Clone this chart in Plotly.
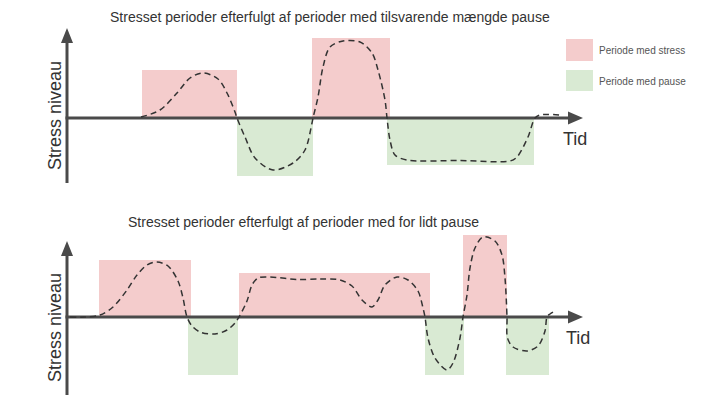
import plotly.graph_objects as go

# ---------------- data ----------------
# time units (t) and stress units (s)
top_title = "Stresset perioder efterfulgt af perioder med tilsvarende mængde pause"
bot_title = "Stresset perioder efterfulgt af perioder med for lidt pause"
y_label = "Stress niveau"
x_label = "Tid"
legend_labels = ["Periode med stress", "Periode med pause"]

# top panel periods
top_stress_start = [7.5, 24.5]
top_stress_end = [17.0, 32.3]
top_stress_level = [4.8, 8.0]
top_pause_start = [17.0, 32.0]
top_pause_end = [24.6, 46.7]
top_pause_level = [-5.8, -4.7]

top_curve_t = [7.4, 9.3, 11.0, 12.3, 13.6, 15.1, 16.0, 16.8, 17.0, 17.8, 18.8, 20.6, 22.6,
               23.8, 24.5, 24.6, 25.1, 25.6, 26.3, 27.6, 29.3, 30.5, 31.1, 31.8, 32.0, 32.3,
               32.8, 34.0, 39.3, 44.3, 45.0, 46.1, 46.8, 47.3, 49.3]
top_curve_s = [0.1, 0.8, 2.5, 4.0, 4.5, 3.9, 2.5, 0.6, 0.0, -1.9, -4.0, -5.2, -4.5,
               -3.2, -0.5, 0.0, 2.1, 5.1, 7.1, 7.7, 7.6, 6.5, 4.8, 1.8, 0.0, -2.2,
               -3.7, -4.2, -4.25, -4.3, -3.9, -1.9, 0.0, 0.3, 0.3]

# bottom panel periods
bot_stress_start = [3.2, 17.2, 39.6]
bot_stress_end = [12.4, 36.3, 44.0]
bot_stress_level = [5.7, 4.4, 8.2]
bot_pause_start = [12.1, 35.8, 43.9]
bot_pause_end = [17.1, 39.7, 48.2]
bot_pause_level = [-5.8, -5.8, -5.8]

bot_curve_t = [0.3, 1.8, 3.3, 4.6, 6.0, 7.0, 8.0, 9.0, 10.1, 11.1, 11.6, 12.0, 12.5, 13.3,
               14.8, 16.0, 16.8, 17.2, 18.0, 18.5, 19.1, 20.3, 23.0, 25.3, 27.3, 28.5, 29.5,
               30.5, 31.1, 31.8, 33.0, 34.1, 35.1, 35.6, 35.8, 36.1, 36.8, 38.0, 38.6, 39.3,
               39.6, 40.0, 40.3, 40.8, 41.6, 42.8, 43.5, 43.8, 44.0, 44.05, 44.6, 46.0, 47.1,
               47.8, 48.0, 48.3, 48.8]
bot_curve_s = [0.0, 0.0, 0.2, 1.0, 2.7, 4.2, 5.2, 5.5, 5.1, 3.6, 1.9, 0.0, -0.9, -1.5,
               -1.7, -1.3, -0.6, 0.0, 1.6, 3.2, 3.9, 4.0, 3.75, 3.8, 3.7, 3.1, 1.7,
               1.0, 1.7, 3.2, 4.0, 3.7, 2.6, 0.9, 0.0, -2.1, -4.1, -5.3, -4.6, -2.1,
               0.0, 2.2, 4.9, 6.9, 8.0, 7.6, 6.2, 3.9, 0.0, -2.1, -3.0, -3.4, -2.9,
               -1.4, 0.0, 0.3, 0.6]

# axis extents (data units)
top_axis = dict(ymin=-6.5, ymax=9.0, xmax=51.6)
bot_axis = dict(ymin=-7.8, ymax=7.6, xmax=51.6)

# ---------------- style ----------------
RED = "#f4cccc"
GREEN = "#d9ead3"
AXIS = "#4a4a4a"
CURVE = "#333333"
FONT = "Liberation Sans, Arial, sans-serif"

fig = go.Figure()

def add_panel(xr, yr, curve_t, curve_s, s_start, s_end, s_lvl, p_start, p_end, p_lvl, ax):
    shapes = []
    for a, b, h in zip(s_start, s_end, s_lvl):
        shapes.append(dict(type="rect", xref=xr, yref=yr, x0=a, x1=b, y0=0, y1=h,
                           fillcolor=RED, line=dict(width=0), layer="below"))
    for a, b, h in zip(p_start, p_end, p_lvl):
        shapes.append(dict(type="rect", xref=xr, yref=yr, x0=a, x1=b, y0=h, y1=0,
                           fillcolor=GREEN, line=dict(width=0), layer="below"))
    head_len_y, head_w_y = 1.5, 0.6
    head_len_x, head_w_x = 1.5, 0.65
    # y axis line + arrowhead
    shapes.append(dict(type="line", xref=xr, yref=yr, x0=0, x1=0, y0=ax["ymin"],
                       y1=ax["ymax"] - head_len_y + 0.2, line=dict(color=AXIS, width=3), layer="below"))
    yt = ax["ymax"]
    shapes.append(dict(type="path", xref=xr, yref=yr,
                       path=f"M {-head_w_y},{yt - head_len_y} L {head_w_y},{yt - head_len_y} L 0,{yt} Z",
                       fillcolor=AXIS, line=dict(width=0), layer="below"))
    # x axis line + arrowhead
    xt = ax["xmax"]
    shapes.append(dict(type="line", xref=xr, yref=yr, x0=-0.15, x1=xt - head_len_x + 0.2, y0=0, y1=0,
                       line=dict(color=AXIS, width=3), layer="below"))
    shapes.append(dict(type="path", xref=xr, yref=yr,
                       path=f"M {xt - head_len_x},{-head_w_x} L {xt - head_len_x},{head_w_x} L {xt},0 Z",
                       fillcolor=AXIS, line=dict(width=0), layer="below"))
    fig.add_trace(go.Scatter(x=curve_t, y=curve_s, mode="lines", xaxis=xr, yaxis=yr,
                             line=dict(color=CURVE, width=1.5, dash="6px,4px", shape="spline", smoothing=0.9),
                             hoverinfo="skip", showlegend=False))
    return shapes

shapes = []
shapes += add_panel("x", "y", top_curve_t, top_curve_s, top_stress_start, top_stress_end, top_stress_level,
                    top_pause_start, top_pause_end, top_pause_level, top_axis)
shapes += add_panel("x2", "y2", bot_curve_t, bot_curve_s, bot_stress_start, bot_stress_end, bot_stress_level,
                    bot_pause_start, bot_pause_end, bot_pause_level, bot_axis)

# legend swatches (paper coords)
W, H = 728, 400
def px(x): return x / W
def py(y): return 1 - y / H
shapes.append(dict(type="rect", xref="paper", yref="paper", x0=px(566), x1=px(593), y0=py(61), y1=py(39),
                   fillcolor=RED, line=dict(width=0)))
shapes.append(dict(type="rect", xref="paper", yref="paper", x0=px(566), x1=px(593), y0=py(91), y1=py(70),
                   fillcolor=GREEN, line=dict(width=0)))

annotations = [
    dict(text=top_title, x=px(330), y=py(17), xref="paper", yref="paper", showarrow=False,
         font=dict(size=14, color="#333333", family=FONT), xanchor="center", yanchor="middle"),
    dict(text=bot_title, x=px(303), y=py(222), xref="paper", yref="paper", showarrow=False,
         font=dict(size=14, color="#333333", family=FONT), xanchor="center", yanchor="middle"),
    dict(text=y_label, x=px(55), y=py(116), xref="paper", yref="paper", showarrow=False, textangle=-90,
         font=dict(size=18, color="#333333", family=FONT), xanchor="center", yanchor="middle"),
    dict(text=y_label, x=px(55), y=py(328), xref="paper", yref="paper", showarrow=False, textangle=-90,
         font=dict(size=18, color="#333333", family=FONT), xanchor="center", yanchor="middle"),
    dict(text=x_label, x=px(575), y=py(139), xref="paper", yref="paper", showarrow=False,
         font=dict(size=18, color="#333333", family=FONT), xanchor="center", yanchor="middle"),
    dict(text=x_label, x=px(578), y=py(338), xref="paper", yref="paper", showarrow=False,
         font=dict(size=18, color="#333333", family=FONT), xanchor="center", yanchor="middle"),
    dict(text=legend_labels[0], x=px(597), y=py(50), xref="paper", yref="paper", showarrow=False,
         font=dict(size=10, color="#555555", family=FONT), xanchor="left", yanchor="middle"),
    dict(text=legend_labels[1], x=px(597), y=py(81), xref="paper", yref="paper", showarrow=False,
         font=dict(size=10, color="#555555", family=FONT), xanchor="left", yanchor="middle"),
]

hidden = dict(visible=False, showgrid=False, zeroline=False, fixedrange=True)
fig.update_layout(
    width=W, height=H,
    margin=dict(l=0, r=0, t=0, b=0),
    paper_bgcolor="white", plot_bgcolor="rgba(0,0,0,0)",
    showlegend=False,
    xaxis=dict(domain=[px(60), px(600)], range=[-0.7, 53.3], anchor="y", **hidden),
    yaxis=dict(domain=[py(190), py(20)], range=[-7.2, 9.8], anchor="x", **hidden),
    xaxis2=dict(domain=[px(60), px(600)], range=[-0.7, 53.3], anchor="y2", **hidden),
    yaxis2=dict(domain=[py(400), py(230)], range=[-8.3, 8.7], anchor="x2", **hidden),
    shapes=shapes,
    annotations=annotations,
    font=dict(family=FONT),
)

fig.write_html("out.html", config={"displayModeBar": False})
